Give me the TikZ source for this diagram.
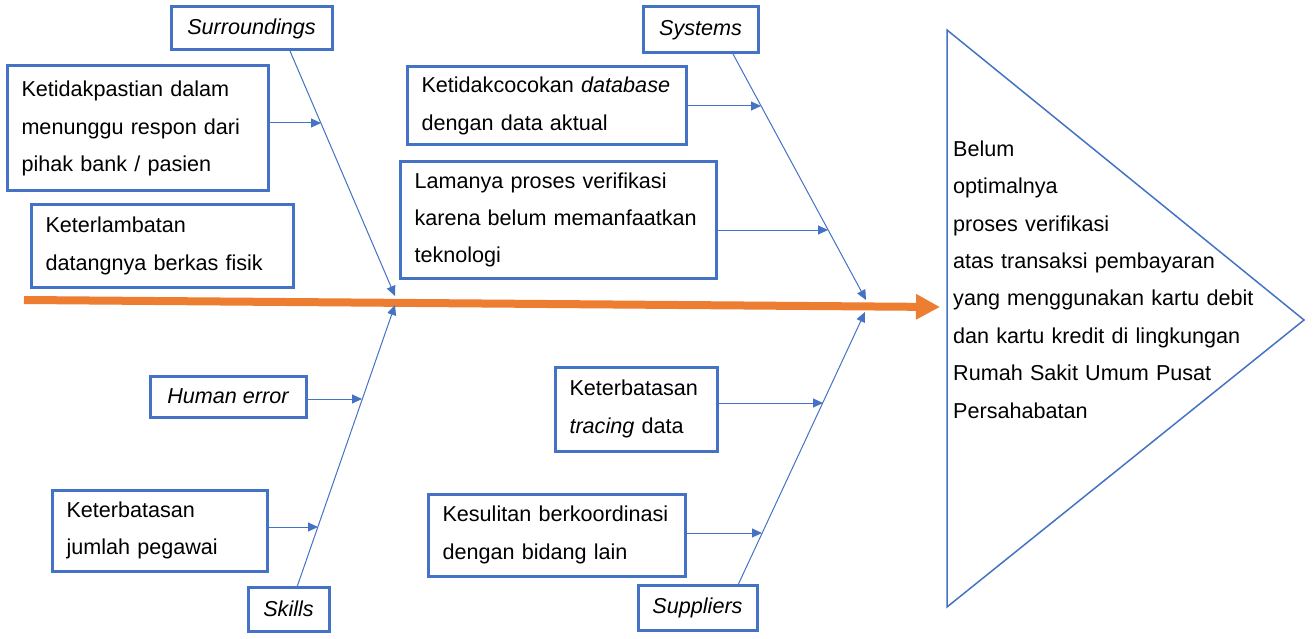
\documentclass[tikz,border=0pt]{standalone}
\usepackage{fontspec}
\setmainfont{Liberation Sans}
\usetikzlibrary{arrows.meta,calc}
\definecolor{oblue}{HTML}{4472C4}
\definecolor{oorange}{HTML}{ED7D31}
\begin{document}
\begin{tikzpicture}[x=1pt,y=-1pt,
  every node/.style={font=\fontsize{21.6pt}{37.4pt}\selectfont},
  cat/.style={draw=oblue,line width=3pt,inner sep=0pt,font=\fontsize{21.6pt}{37.4pt}\selectfont\itshape},
  cause/.style={draw=oblue,line width=3pt,inner xsep=14.5pt,inner ysep=0pt,align=left},
  bone/.style={draw=oblue,line width=1pt,-{Triangle[length=10pt,width=9pt]}},
  twig/.style={draw=oblue,line width=1pt,-{Triangle[length=10pt,width=9pt]}}
]
\useasboundingbox (0,0) rectangle (1314,639);

% category boxes
\node[cat,minimum width=161pt,minimum height=43pt] (sur) at (251.5,28.5) {Surroundings};
\node[cat,minimum width=115pt,minimum height=46pt] (sys) at (700.5,30) {Systems};
\node[cat,minimum width=156pt,minimum height=41pt] (hum) at (228,396.5) {Human error};
\node[cat,minimum width=81pt,minimum height=44pt] (ski) at (288.5,609) {Skills};
\node[cat,minimum width=119pt,minimum height=45pt] (sup) at (697.5,607.5) {Suppliers};

% cause boxes
\node[cause,minimum width=261pt,minimum height=125pt,text width=232pt] (kp) at (137.5,128.5)
  {Ketidakpastian dalam\\menunggu respon dari\\pihak bank / pasien};
\node[cause,minimum width=262pt,minimum height=82pt,text width=233pt] (kl) at (162,246)
  {Keterlambatan\\datangnya berkas fisik};
\node[cause,minimum width=279pt,minimum height=78pt,text width=250pt] (kc) at (546.5,106)
  {Ketidakcocokan \textit{database}\\dengan data aktual};
\node[cause,minimum width=316pt,minimum height=116pt,text width=287pt] (lp) at (558,220)
  {Lamanya proses verifikasi\\karena belum memanfaatkan\\teknologi};
\node[cause,minimum width=162pt,minimum height=84pt,text width=133pt] (tr) at (636,409)
  {Keterbatasan\\\textit{tracing} data};
\node[cause,minimum width=257pt,minimum height=82pt,text width=228pt] (ks) at (556.5,535)
  {Kesulitan berkoordinasi\\dengan bidang lain};
\node[cause,minimum width=215pt,minimum height=81pt,text width=186pt] (pg) at (159.5,530.5)
  {Keterbatasan\\jumlah pegawai};

% head (effect)
\coordinate (triA) at (947,30);
\coordinate (triB) at (947,607);
\coordinate (triC) at (1304,320);
\draw[oblue,line width=1.5pt] (triA) -- (triC) -- (triB) -- cycle;
\node[anchor=west,align=left,inner xsep=6pt,inner ysep=0pt,text width=330pt] (goal) at (947,279.5)
  {Belum\\optimalnya\\proses verifikasi\\atas transaksi pembayaran\\yang menggunakan kartu debit\\dan kartu kredit di lingkungan\\Rumah Sakit Umum Pusat\\Persahabatan};

% main spine
\coordinate (spL) at (24,300);
\coordinate (spR) at (940,307);
\draw[oorange,line width=8pt,-{Triangle[length=24pt,width=24pt]}] (spL) -- (spR);

% bone start and tip points
\coordinate (surA) at (290,51);
\coordinate (surT) at (395,296);
\coordinate (sysA) at (733,54);
\coordinate (sysT) at (866,300);
\coordinate (skiA) at (297,587);
\coordinate (skiT) at (395,305);
\coordinate (supA) at (738,585);
\coordinate (supT) at (865,312);
\draw[bone] (surA) -- (surT);
\draw[bone] (sysA) -- (sysT);
\draw[bone] (skiA) -- (skiT);
\draw[bone] (supA) -- (supT);

% twig tips
\coordinate (tkp) at (321,123);
\coordinate (tkc) at (761,106);
\coordinate (tlp) at (828,230);
\coordinate (thum) at (362,399);
\coordinate (tpg) at (318,527);
\coordinate (ttr) at (823,403);
\coordinate (tks) at (762,533);
\draw[twig] (kp.east |- tkp) -- (tkp);
\draw[twig] (kc.east |- tkc) -- (tkc);
\draw[twig] (lp.east |- tlp) -- (tlp);
\draw[twig] (hum.east |- thum) -- (thum);
\draw[twig] (pg.east |- tpg) -- (tpg);
\draw[twig] (tr.east |- ttr) -- (ttr);
\draw[twig] (ks.east |- tks) -- (tks);
\end{tikzpicture}
\end{document}
